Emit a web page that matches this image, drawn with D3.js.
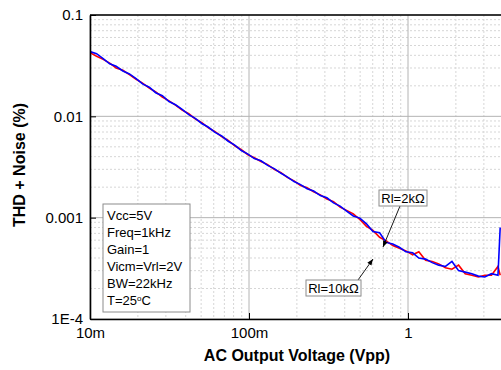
<!DOCTYPE html>
<html>
<head>
<meta charset="utf-8">
<script src="https://cdn.jsdelivr.net/npm/d3@7"></script>
<style>
  body { margin: 0; background: #fff; }
  svg { font-family: "Liberation Sans", Arial, sans-serif; }
</style>
</head>
<body>
<svg width="501" height="370"></svg>
<script>
// values (Vpp, THD+N in %)
const volts = [0.0100, 0.0110, 0.0121, 0.0133, 0.0146, 0.0161, 0.0177, 0.0195, 0.0214, 0.0236,
  0.0259, 0.0285, 0.0314, 0.0345, 0.0380, 0.0418, 0.0459, 0.0505, 0.0556, 0.0612,
  0.0673, 0.0740, 0.0814, 0.0895, 0.0985, 0.108, 0.119, 0.131, 0.144, 0.159,
  0.174, 0.192, 0.211, 0.232, 0.255, 0.281, 0.309, 0.340, 0.374, 0.411,
  0.453, 0.498, 0.548, 0.602, 0.663, 0.729, 0.802, 0.882, 0.970, 1.07,
  1.17, 1.29, 1.42, 1.56, 1.72, 1.89, 2.08, 2.29, 2.52, 2.77,
  3.04, 3.35, 3.68, 3.80];
const thdRl2k = [0.0425, 0.0392, 0.0365, 0.0335, 0.0300, 0.0285, 0.0258, 0.0232, 0.0213, 0.0190,
  0.0174, 0.0155, 0.0142, 0.0129, 0.0115, 0.0106, 0.00945, 0.00865, 0.00770, 0.00705,
  0.00630, 0.00578, 0.00512, 0.00468, 0.00418, 0.00390, 0.00358, 0.00334, 0.00300, 0.00278,
  0.00250, 0.00231, 0.00208, 0.00197, 0.00180, 0.00168, 0.00153, 0.00144, 0.00127, 0.00118,
  0.00109, 0.00096, 0.00082, 0.00075, 0.00064, 0.00059, 0.00053, 0.00050, 0.00047, 0.00043,
  0.00046, 0.00038, 0.00037, 0.00035, 0.00032, 0.00031, 0.00034, 0.00028, 0.00027, 0.00026,
  0.00027, 0.00027, 0.00033, 0.00027];
const thdRl10k = [0.0435, 0.0415, 0.0372, 0.0330, 0.0312, 0.0280, 0.0262, 0.0236, 0.0209, 0.0194,
  0.0171, 0.0160, 0.0140, 0.0130, 0.0117, 0.0104, 0.00955, 0.00850, 0.00780, 0.00695,
  0.00640, 0.00568, 0.00520, 0.00460, 0.00424, 0.00383, 0.00364, 0.00328, 0.00305, 0.00274,
  0.00253, 0.00227, 0.00212, 0.00193, 0.00183, 0.00165, 0.00157, 0.00140, 0.00130, 0.00116,
  0.00104, 0.00099, 0.00087, 0.00073, 0.00071, 0.00057, 0.00055, 0.00051, 0.00046, 0.00045,
  0.00040, 0.00039, 0.00036, 0.00034, 0.00033, 0.00037, 0.00030, 0.00029, 0.00028, 0.000265,
  0.00026, 0.00028, 0.00027, 0.00080];

const xTicks = [0.01, 0.1, 1];
const xTickLabels = ["10m", "100m", "1"];
const yTicks = [0.0001, 0.001, 0.01, 0.1];
const yTickLabels = ["1E-4", "0.001", "0.01", "0.1"];
const conditions = ["Vcc=5V", "Freq=1kHz", "Gain=1", "Vicm=Vrl=2V", "BW=22kHz", "T=25"];

const svg = d3.select("svg");
const margin = {top: 15, left: 90, bottom: 51};
const width = 501 - margin.left;
const height = 370 - margin.top - margin.bottom;

// one decade is ~159px on x, ~101px on y
const x = d3.scaleLog().domain([0.01, 10]).range([margin.left, margin.left + 477]);
const y = d3.scaleLog().domain([0.0001, 0.1]).range([margin.top + height, margin.top]);

const minors = decades => decades.flatMap(d => d3.range(2, 10).map(k => d * k));
const xMinor = minors([0.01, 0.1, 1]);
const yMinor = minors([0.0001, 0.001, 0.01]);

svg.append("defs").append("clipPath").attr("id", "plot")
  .append("rect")
  .attr("x", margin.left).attr("y", margin.top)
  .attr("width", width).attr("height", height);

// grid
const grid = svg.append("g");
grid.selectAll(".vmin").data(xMinor).enter().append("line")
  .attr("x1", d => x(d)).attr("x2", d => x(d))
  .attr("y1", margin.top).attr("y2", margin.top + height)
  .attr("stroke", "#d6d6d6").attr("stroke-dasharray", "2,2");
grid.selectAll(".hmin").data(yMinor).enter().append("line")
  .attr("x1", margin.left).attr("x2", 501)
  .attr("y1", d => y(d)).attr("y2", d => y(d))
  .attr("stroke", "#d6d6d6").attr("stroke-dasharray", "2,2");
grid.selectAll(".vmaj").data(xTicks).enter().append("line")
  .attr("x1", d => x(d)).attr("x2", d => x(d))
  .attr("y1", margin.top).attr("y2", margin.top + height)
  .attr("stroke", "#b4b4b4");
grid.selectAll(".hmaj").data(yTicks).enter().append("line")
  .attr("x1", margin.left).attr("x2", 501)
  .attr("y1", d => y(d)).attr("y2", d => y(d))
  .attr("stroke", "#b4b4b4");

// curves
const line = d3.line()
  .x((d, i) => x(volts[i]))
  .y(d => y(d));

const curves = svg.append("g").attr("clip-path", "url(#plot)");
curves.append("path").datum(thdRl2k)
  .attr("d", line).attr("fill", "none")
  .attr("stroke", "#ff0000").attr("stroke-width", 1.6);
curves.append("path").datum(thdRl10k)
  .attr("d", line).attr("fill", "none")
  .attr("stroke", "#0000ff").attr("stroke-width", 1.6);

// axes
const xAxis = svg.append("g").attr("transform", `translate(0,${margin.top + height})`);
xAxis.call(d3.axisBottom(x).tickValues(xMinor).tickSizeInner(-3).tickSizeOuter(0).tickFormat(""));
xAxis.call(d3.axisBottom(x).tickValues(xTicks).tickSizeInner(-6).tickSizeOuter(0)
  .tickPadding(8).tickFormat((d, i) => xTickLabels[i]));

const yAxis = svg.append("g").attr("transform", `translate(${margin.left},0)`);
yAxis.call(d3.axisLeft(y).tickValues(yMinor).tickSizeInner(-3).tickSizeOuter(0).tickFormat(""));
yAxis.call(d3.axisLeft(y).tickValues(yTicks).tickSizeInner(-6).tickSizeOuter(0)
  .tickPadding(7).tickFormat((d, i) => yTickLabels[i]));

svg.selectAll(".domain").attr("stroke", "#000").attr("stroke-width", 1.6);
svg.selectAll(".tick line").attr("stroke", "#000");
svg.selectAll(".tick text").attr("font-size", 15).attr("fill", "#000")
  .attr("font-family", "Liberation Sans, Arial, sans-serif");

// top frame line
svg.append("line")
  .attr("x1", margin.left).attr("x2", 501)
  .attr("y1", margin.top).attr("y2", margin.top)
  .attr("stroke", "#000").attr("stroke-width", 1.6);

// axis titles
svg.append("text")
  .attr("x", 297).attr("y", 361)
  .attr("text-anchor", "middle")
  .attr("font-size", 16).attr("font-weight", "bold")
  .text("AC Output Voltage (Vpp)");

svg.append("text")
  .attr("transform", "translate(25,165) rotate(-90)")
  .attr("text-anchor", "middle")
  .attr("font-size", 16).attr("font-weight", "bold")
  .text("THD + Noise (%)");

// test conditions box
svg.append("rect")
  .attr("x", 103).attr("y", 204)
  .attr("width", 87).attr("height", 108)
  .attr("fill", "#fff").attr("stroke", "#8c8c8c");

const cond = svg.append("text").attr("font-size", 13);
conditions.forEach((c, i) => {
  cond.append("tspan").attr("x", 107).attr("y", 220 + i * 17).text(c);
  if (i === conditions.length - 1) {
    cond.append("tspan").attr("font-size", 8).attr("dy", -4).text("o");
    cond.append("tspan").attr("dy", 4).text("C");
  }
});

// annotations
svg.append("defs").append("marker")
  .attr("id", "arrow").attr("viewBox", "0 0 10 10")
  .attr("refX", 10).attr("refY", 5)
  .attr("markerWidth", 7).attr("markerHeight", 7)
  .attr("orient", "auto")
  .append("path").attr("d", "M0,1L10,5L0,9z").attr("fill", "#000");

const notes = [
  {label: "Rl=2k\u03a9", bx: 379, by: 190, bw: 48, from: [400, 206], to: [383, 247]},
  {label: "Rl=10k\u03a9", bx: 306, by: 280, bw: 55, from: [358, 280], to: [373, 259]}
];

notes.forEach(n => {
  svg.append("line")
    .attr("x1", n.from[0]).attr("y1", n.from[1])
    .attr("x2", n.to[0]).attr("y2", n.to[1])
    .attr("stroke", "#000").attr("stroke-width", 0.9)
    .attr("marker-end", "url(#arrow)");
  svg.append("rect")
    .attr("x", n.bx).attr("y", n.by)
    .attr("width", n.bw).attr("height", 16)
    .attr("fill", "#fff").attr("stroke", "#8c8c8c");
  svg.append("text")
    .attr("x", n.bx + n.bw / 2).attr("y", n.by + 12.5)
    .attr("text-anchor", "middle").attr("font-size", 13)
    .text(n.label);
});
</script>
</body>
</html>
